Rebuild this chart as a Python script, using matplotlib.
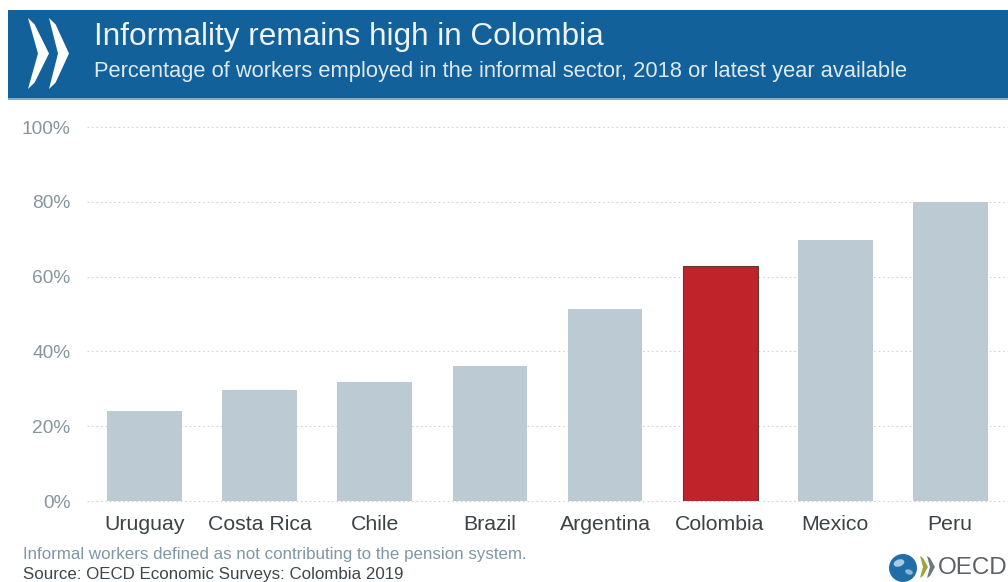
import matplotlib
matplotlib.use("Agg")
import matplotlib.pyplot as plt
from matplotlib.patches import Circle, Ellipse, Polygon, Rectangle
from matplotlib.transforms import IdentityTransform

plt.rcParams['font.family'] = ['Liberation Sans', 'DejaVu Sans']

countries = ['Uruguay', 'Costa Rica', 'Chile', 'Brazil', 'Argentina', 'Colombia', 'Mexico', 'Peru']
informal_share = [24, 29.7, 31.8, 36.1, 51.4, 62.8, 69.9, 80]
y_ticks = [0, 20, 40, 60, 80, 100]

W, H = 1008, 582


def fx(px):
    return px / W


def fy(py):
    return 1 - py / H


def chevron(x, top, bottom, width, thick, color):
    # one arrow head, x is the left edge, sizes in pixels from the top left
    mid = (top + bottom) / 2
    dy = (bottom - top) * 0.09
    pts = [(x, top), (x + thick * 0.6, top + dy), (x + width, mid),
           (x + thick * 0.6, bottom - dy), (x, bottom), (x + width - thick, mid)]
    fig.add_artist(Polygon([(fx(a), fy(b)) for a, b in pts], closed=True,
                           transform=fig.transFigure, fc=color, ec='none'))


fig = plt.figure(figsize=(W / 100, H / 100), dpi=100, facecolor='white')

# banner
fig.add_artist(Rectangle((fx(8), fy(98)), fx(1000), 88 / H, transform=fig.transFigure,
                         fc='#13619b', ec='none'))
fig.add_artist(Rectangle((fx(8), fy(99.5)), fx(1000), 1.5 / H, transform=fig.transFigure,
                         fc='#7fb0d4', ec='none'))
chevron(28, 18, 89, 21, 11, 'white')
chevron(49, 18, 89, 20, 11, 'white')
fig.text(fx(94), fy(37.5), 'Informality remains high in Colombia', color='#eef3f8',
         fontsize=22.7, va='center', ha='left')
fig.text(fx(94), fy(71), 'Percentage of workers employed in the informal sector, 2018 or latest year available',
         color='#dfe9f1', fontsize=15.75, va='center', ha='left')

# plot area
ax = fig.add_axes([fx(87), fy(501), fx(921), 374 / H])
colors = ['#bccad3'] * len(countries)
colors[countries.index('Colombia')] = '#c1232b'
edges = ['none'] * len(countries)
edges[countries.index('Colombia')] = '#5a3a3a'
ax.bar(range(len(countries)), informal_share, width=0.652, color=colors, edgecolor=edges,
       linewidth=0.8, zorder=3)
ax.set_xlim(-0.504, 7.504)
ax.set_ylim(0, 100)
ax.set_xticks(range(len(countries)))
ax.set_xticklabels(countries, fontsize=15.3, color='#3c4246')
ax.set_yticks(y_ticks)
ax.set_yticklabels([f'{v}%' for v in y_ticks], fontsize=13.8, color='#87959e')
ax.tick_params(axis='both', length=0)
ax.tick_params(axis='x', pad=10)
ax.tick_params(axis='y', pad=12)
ax.grid(axis='y', color='#ccd4d9', linestyle=(0, (1.5, 2.5)), linewidth=0.8, zorder=0)
ax.set_axisbelow(True)
for spine in ax.spines.values():
    spine.set_visible(False)
for line in ax.get_ygridlines():
    line.set_clip_on(False)

# footer
fig.text(fx(23), fy(555), 'Informal workers defined as not contributing to the pension system.',
         color='#7f97a6', fontsize=12.2, va='center', ha='left')
fig.text(fx(23), fy(575), 'Source: OECD Economic Surveys: Colombia 2019',
         color='#3f464b', fontsize=12.2, va='center', ha='left')

# logo: globe, two arrows and the name
pixels = IdentityTransform()
fig.add_artist(Circle((903, H - 568), 14, transform=pixels, fc='#1f6ea8', ec='none'))
fig.add_artist(Ellipse((899, H - 563), 11, 7, angle=20, transform=pixels, fc='#a9cbe2', ec='none'))
fig.add_artist(Ellipse((909, H - 572), 8, 5, angle=-20, transform=pixels, fc='#8db8d6', ec='none'))
chevron(920, 556, 578, 8, 5, '#9aa53f')
chevron(927, 556, 578, 8, 5, '#6b7a7f')
fig.text(fx(938), fy(568), 'OECD', color='#5c6368', fontsize=17.4, va='center', ha='left')

fig.savefig('out.png', dpi=100)
